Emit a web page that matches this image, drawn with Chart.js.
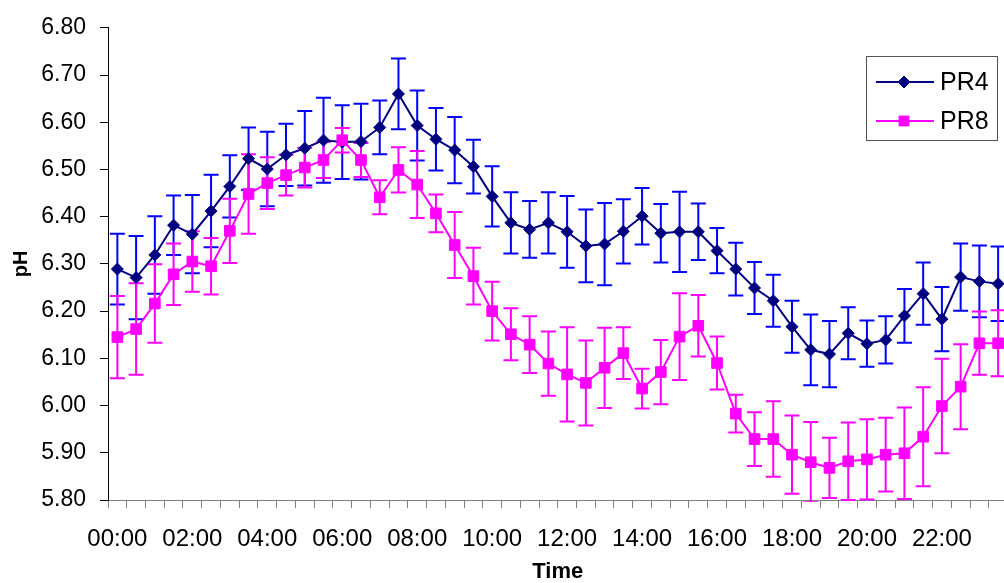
<!DOCTYPE html>
<html>
<head>
<meta charset="utf-8">
<script src="https://cdn.jsdelivr.net/npm/chart.js@4.4.1/dist/chart.umd.min.js"></script>
<style>
  html, body { margin: 0; padding: 0; background: #fff; overflow: hidden; }
  #wrap { position: relative; width: 1016px; height: 583px; }
</style>
</head>
<body>
<div id="wrap"><canvas id="c"></canvas></div>
<script>
const times = ['00:00','00:30','01:00','01:30','02:00','02:30','03:00','03:30',
  '04:00','04:30','05:00','05:30','06:00','06:30','07:00','07:30',
  '08:00','08:30','09:00','09:30','10:00','10:30','11:00','11:30',
  '12:00','12:30','13:00','13:30','14:00','14:30','15:00','15:30',
  '16:00','16:30','17:00','17:30','18:00','18:30','19:00','19:30',
  '20:00','20:30','21:00','21:30','22:00','22:30','23:00','23:30'];
const shownTimeLabels = ['00:00','02:00','04:00','06:00','08:00','10:00','12:00','14:00','16:00','18:00','20:00','22:00'];

const pr4 = [6.289, 6.271, 6.319, 6.382, 6.363, 6.412, 6.464, 6.523, 6.501, 6.531, 6.545, 6.562,
  6.558, 6.559, 6.589, 6.660, 6.593, 6.564, 6.541, 6.506, 6.443, 6.387, 6.373, 6.387,
  6.368, 6.338, 6.342, 6.369, 6.401, 6.365, 6.368, 6.368, 6.328, 6.289, 6.249, 6.222,
  6.167, 6.118, 6.109, 6.153, 6.131, 6.139, 6.190, 6.237, 6.183, 6.272, 6.263, 6.258];
const pr4Err = [0.075, 0.088, 0.082, 0.063, 0.083, 0.077, 0.066, 0.066, 0.079, 0.066, 0.079, 0.090,
  0.078, 0.080, 0.057, 0.075, 0.074, 0.066, 0.070, 0.057, 0.064, 0.065, 0.060, 0.065,
  0.076, 0.077, 0.087, 0.068, 0.060, 0.062, 0.085, 0.060, 0.048, 0.056, 0.055, 0.055,
  0.055, 0.075, 0.070, 0.055, 0.049, 0.050, 0.057, 0.066, 0.068, 0.071, 0.076, 0.079];
const pr8 = [6.145, 6.162, 6.216, 6.278, 6.305, 6.295, 6.370, 6.448, 6.471, 6.488, 6.504, 6.520,
  6.562, 6.520, 6.441, 6.499, 6.468, 6.407, 6.340, 6.274, 6.200, 6.151, 6.129, 6.089,
  6.066, 6.048, 6.080, 6.111, 6.036, 6.071, 6.146, 6.169, 6.090, 5.983, 5.929, 5.929,
  5.896, 5.880, 5.868, 5.882, 5.886, 5.896, 5.899, 5.934, 5.999, 6.040, 6.132, 6.132];
const pr8Err = [0.087, 0.097, 0.083, 0.065, 0.064, 0.060, 0.068, 0.084, 0.055, 0.043, 0.042, 0.038,
  0.026, 0.036, 0.036, 0.048, 0.071, 0.040, 0.070, 0.060, 0.062, 0.055, 0.060, 0.068,
  0.100, 0.090, 0.085, 0.055, 0.042, 0.068, 0.092, 0.065, 0.056, 0.040, 0.057, 0.080,
  0.083, 0.085, 0.064, 0.082, 0.085, 0.078, 0.097, 0.105, 0.100, 0.090, 0.067, 0.070];

const FONT = "'Liberation Sans', Arial, Helvetica, sans-serif";
Chart.defaults.font.family = FONT;
Chart.defaults.color = '#000';

const errorBarPlugin = {
  id: 'errorBars',
  beforeDatasetsDraw(chart) {
    const ctx = chart.ctx;
    const ys = chart.scales.y;
    const a = chart.chartArea;
    ctx.save();
    ctx.beginPath();
    ctx.rect(a.left, a.top - 2, a.right - a.left, a.bottom - a.top + 4);
    ctx.clip();
    chart.data.datasets.forEach((ds, di) => {
      const meta = chart.getDatasetMeta(di);
      ctx.strokeStyle = ds.errorColor;
      ctx.lineWidth = 2;
      meta.data.forEach((pt, i) => {
        const v = ds.data[i], e = ds.errors[i];
        const yt = ys.getPixelForValue(v + e);
        const yb = ys.getPixelForValue(v - e);
        const x = pt.x, hw = 7.5;
        ctx.beginPath();
        ctx.moveTo(x, yt); ctx.lineTo(x, yb);
        ctx.moveTo(x - hw, yt); ctx.lineTo(x + hw, yt);
        ctx.moveTo(x - hw, yb); ctx.lineTo(x + hw, yb);
        ctx.stroke();
      });
    });
    ctx.restore();
  }
};

const boxLegendPlugin = {
  id: 'boxLegend',
  afterDraw(chart) {
    const ctx = chart.ctx;
    ctx.save();
    ctx.strokeStyle = '#555';
    ctx.lineWidth = 1;
    ctx.strokeRect(866.5, 56.5, 131, 84);
    const rows = [
      {ds: chart.data.datasets[0], y: 82, r: 6},
      {ds: chart.data.datasets[1], y: 121, r: 7}
    ];
    rows.forEach(row => {
      const ds = row.ds;
      ctx.strokeStyle = ds.borderColor;
      ctx.lineWidth = 2;
      ctx.beginPath();
      ctx.moveTo(876, row.y); ctx.lineTo(934, row.y);
      ctx.stroke();
      ctx.fillStyle = ds.pointBackgroundColor;
      ctx.strokeStyle = ds.pointBorderColor;
      ctx.lineWidth = 1;
      Chart.helpers.drawPoint(ctx, {pointStyle: ds.pointStyle, rotation: 0, radius: row.r, borderWidth: 1}, 904, row.y);
      ctx.fillStyle = '#000';
      ctx.font = '25px ' + FONT;
      ctx.textBaseline = 'middle';
      ctx.textAlign = 'left';
      ctx.fillText(ds.label, 940, row.y + 1);
    });
    ctx.restore();
  }
};

const chart = new Chart(document.getElementById('c'), {
  type: 'line',
  data: {
    labels: times,
    datasets: [
      {
        label: 'PR4', data: pr4, errors: pr4Err, errorColor: '#0000FF',
        borderColor: '#000080', borderWidth: 2,
        pointStyle: 'rectRot', pointRadius: 6,
        pointBackgroundColor: '#000080', pointBorderColor: '#000080', pointBorderWidth: 1,
        tension: 0, order: 1
      },
      {
        label: 'PR8', data: pr8, errors: pr8Err, errorColor: '#FF00FF',
        borderColor: '#FF00FF', borderWidth: 2,
        pointStyle: 'rect', pointRadius: 7.5,
        pointBackgroundColor: '#FF00FF', pointBorderColor: '#FF00FF', pointBorderWidth: 1,
        tension: 0, order: 0
      }
    ]
  },
  options: {
    responsive: true,
    maintainAspectRatio: false,
    animation: false,
    devicePixelRatio: 1,
    layout: { padding: { top: 23, right: 5, bottom: 0, left: 0 } },
    plugins: {
      legend: { display: false },
      tooltip: { enabled: false }
    },
    scales: {
      x: {
        type: 'category',
        offset: true,
        grid: { display: true, offset: true, drawOnChartArea: false, drawTicks: true, tickLength: 8, color: '#808080', lineWidth: 1 },
        border: { display: true, color: '#808080', width: 1 },
        ticks: {
          autoSkip: false, maxRotation: 0, minRotation: 0, padding: 17,
          font: { size: 24 }, color: '#000',
          callback: function(val) {
            const l = this.getLabelForValue(val);
            return shownTimeLabels.includes(l) ? l : '';
          }
        },
        title: { display: true, text: 'Time', font: { size: 22, weight: 'bold', lineHeight: 1 }, padding: { top: 0, bottom: 0 }, color: '#000' },
        afterFit: s => { s.height = 83; }
      },
      y: {
        min: 5.8, max: 6.8,
        grid: { display: true, drawOnChartArea: false, drawTicks: true, tickLength: 8, color: '#000', lineWidth: 1 },
        border: { display: true, color: '#000', width: 1 },
        ticks: {
          stepSize: 0.1, padding: 14, font: { size: 23 }, color: '#000',
          callback: v => Number(v).toFixed(2)
        },
        title: { display: true, text: 'pH', font: { size: 20, weight: 'bold', lineHeight: 1 }, padding: { top: 11, bottom: 0 }, color: '#000' },
        afterFit: s => { s.width = 108; }
      }
    }
  },
  plugins: [errorBarPlugin, boxLegendPlugin]
});
</script>
</body>
</html>
